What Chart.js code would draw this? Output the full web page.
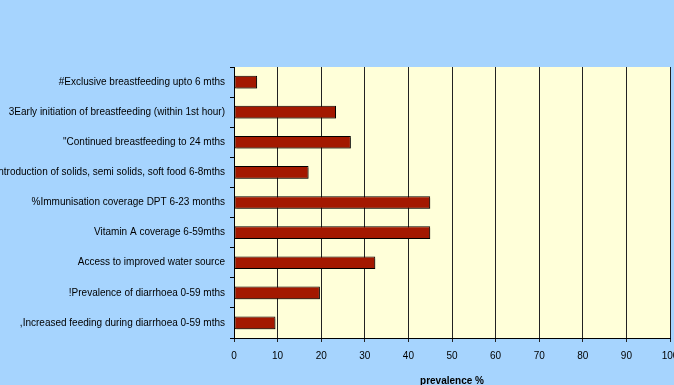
<!DOCTYPE html>
<html>
<head>
<meta charset="utf-8">
<script src="https://cdn.jsdelivr.net/npm/chart.js@4"></script>
<style>
  body { margin: 0; background: #a6d4fe; }
  canvas { display: block; }
</style>
</head>
<body>
<canvas id="chart" width="674" height="385"></canvas>
<script>
const indicators = [
  '#Exclusive breastfeeding upto 6 mths',
  '3Early initiation of breastfeeding (within 1st hour)',
  '"Continued breastfeeding to 24 mths',
  'Introduction of solids, semi solids, soft food 6-8mths',
  '%Immunisation coverage DPT 6-23 months',
  'Vitamin A coverage 6-59mths',
  'Access to improved water source',
  '!Prevalence of diarrhoea 0-59 mths',
  ',Increased feeding during diarrhoea 0-59 mths'
];
const prevalence = [5.3, 23.4, 26.8, 17.1, 45, 45, 32.4, 19.7, 9.5];
const axisMax = 100;
const axisStep = 10;

// fills the page and the plot area before anything else is drawn
const backgrounds = {
  id: 'backgrounds',
  beforeDraw(chart) {
    const ctx = chart.ctx;
    const a = chart.chartArea;
    ctx.save();
    ctx.fillStyle = '#a6d4fe';
    ctx.fillRect(0, 0, chart.width, chart.height);
    ctx.fillStyle = '#ffffd9';
    ctx.fillRect(a.left, a.top, a.right - a.left, a.bottom - a.top);
    ctx.restore();
  }
};

// soft grey drop shadow under the bars
const barShadow = {
  id: 'barShadow',
  beforeDatasetDraw(chart) {
    const ctx = chart.ctx;
    ctx.save();
    ctx.shadowColor = 'rgba(0,0,0,0.3)';
    ctx.shadowOffsetX = 2;
    ctx.shadowOffsetY = 2;
  },
  afterDatasetDraw(chart) {
    chart.ctx.restore();
  }
};

const ctx = document.getElementById('chart').getContext('2d');
new Chart(ctx, {
  type: 'bar',
  data: {
    labels: indicators,
    datasets: [{
      data: prevalence,
      backgroundColor: '#a31800',
      borderColor: '#000000',
      borderWidth: 1,
      borderSkipped: false,
      categoryPercentage: 1,
      barPercentage: 0.42
    }]
  },
  options: {
    indexAxis: 'y',
    responsive: false,
    animation: false,
    layout: { padding: { top: 67, right: 4, bottom: 0, left: 0 } },
    plugins: {
      legend: { display: false },
      tooltip: { enabled: false }
    },
    scales: {
      x: {
        min: 0,
        max: axisMax,
        ticks: {
          stepSize: axisStep,
          color: '#000',
          padding: 8,
          font: { family: 'Liberation Sans, Arial', size: 10 }
        },
        grid: { color: '#222', lineWidth: 1, tickLength: 4 },
        border: { color: '#000' },
        title: {
          display: true,
          text: 'prevalence %',
          color: '#000',
          padding: { top: 0, bottom: 0 },
          font: { family: 'Liberation Sans, Arial', size: 10, weight: 'bold', lineHeight: 0.8 }
        },
        afterFit(scale) {
          scale.height = 47;
          scale.paddingLeft = 0;
          scale.paddingRight = 0;
        }
      },
      y: {
        ticks: {
          color: '#000',
          padding: 5,
          autoSkip: false,
          font: { family: 'Liberation Sans, Arial', size: 10 }
        },
        grid: { drawOnChartArea: false, color: '#000', tickLength: 4 },
        border: { color: '#000' },
        afterFit(scale) {
          scale.width = 234;
        }
      }
    }
  },
  plugins: [backgrounds, barShadow]
});
</script>
</body>
</html>
